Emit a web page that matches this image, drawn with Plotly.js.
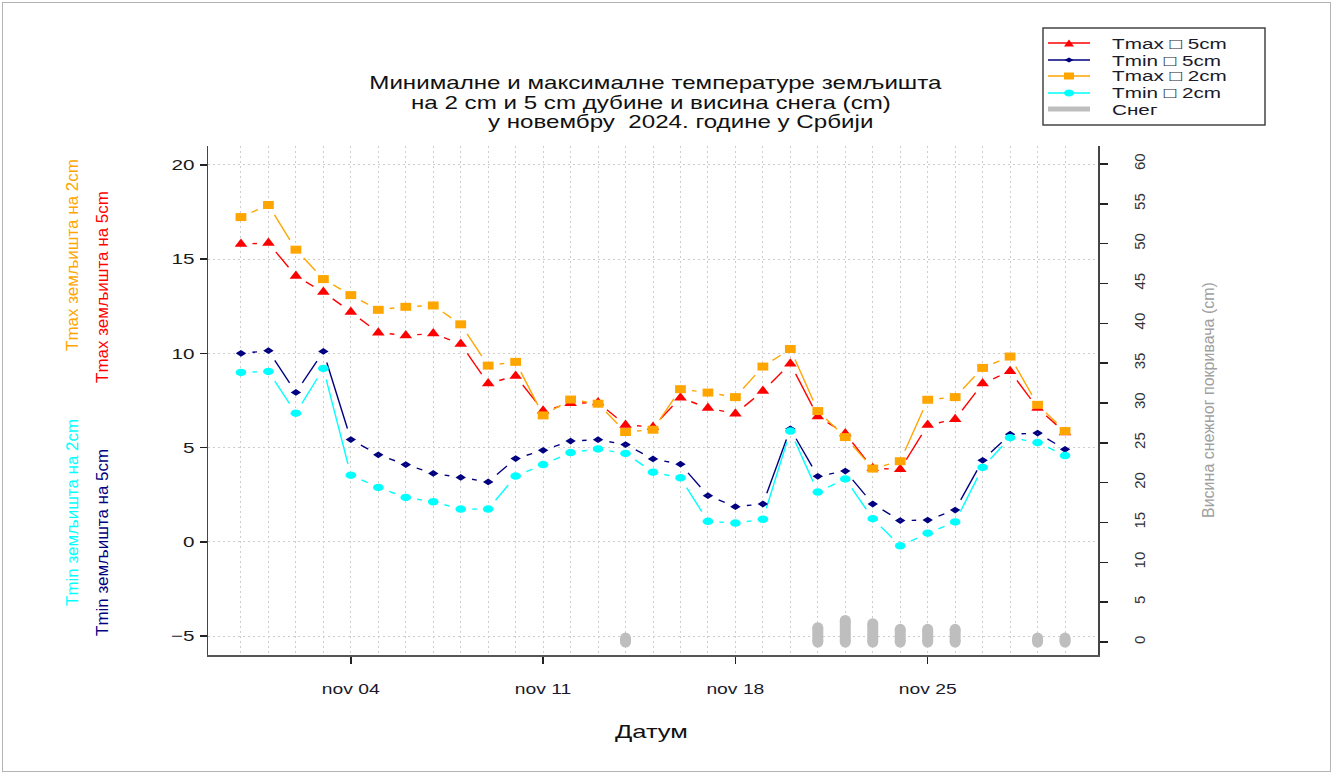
<!DOCTYPE html>
<html>
<head>
<meta charset="utf-8">
<script src="https://cdn.plot.ly/plotly-3.0.1.min.js"></script>
<style>
html, body { margin: 0; padding: 0; background: #ffffff; }
#chart { width: 1333px; height: 774px; }
#frame { position: absolute; left: 2px; top: 2px; width: 1327px; height: 768px; border: 1px solid #b4b4b4; pointer-events: none; }
</style>
</head>
<body>
<div id="chart"></div>
<div id="frame"></div>
<script>
// ---------------- data ----------------
const dates = [
  '2024-10-31','2024-11-01','2024-11-02','2024-11-03','2024-11-04','2024-11-05','2024-11-06','2024-11-07',
  '2024-11-08','2024-11-09','2024-11-10','2024-11-11','2024-11-12','2024-11-13','2024-11-14','2024-11-15',
  '2024-11-16','2024-11-17','2024-11-18','2024-11-19','2024-11-20','2024-11-21','2024-11-22','2024-11-23',
  '2024-11-24','2024-11-25','2024-11-26','2024-11-27','2024-11-28','2024-11-29','2024-11-30'
];
const tmax5 = [15.8, 15.85, 14.1, 13.25, 12.2, 11.1, 10.95, 11.05, 10.5, 8.4, 8.8, 6.95, 7.35, 7.4, 6.2, 6.1,
               7.65, 7.1, 6.8, 8.0, 9.45, 6.65, 5.75, 3.9, 3.85, 6.2, 6.5, 8.4, 9.05, 7.1, 5.8];
const tmin5 = [10.0, 10.14, 7.93, 10.1, 5.43, 4.62, 4.1, 3.63, 3.42, 3.18, 4.42, 4.86, 5.35, 5.42, 5.16, 4.4,
               4.12, 2.45, 1.87, 2.01, 6.0, 3.48, 3.76, 2.01, 1.13, 1.16, 1.69, 4.33, 5.71, 5.77, 4.91];
const tmax2 = [17.23, 17.87, 15.5, 13.94, 13.09, 12.31, 12.47, 12.54, 11.54, 9.35, 9.55, 6.71, 7.55, 7.33, 5.83, 5.95,
               8.1, 7.92, 7.68, 9.3, 10.23, 6.94, 5.56, 3.89, 4.28, 7.54, 7.68, 9.23, 9.83, 7.27, 5.88];
const tmin2 = [8.99, 9.04, 6.83, 9.2, 3.54, 2.89, 2.36, 2.13, 1.74, 1.74, 3.49, 4.1, 4.74, 4.93, 4.69, 3.7,
               3.4, 1.09, 1.0, 1.2, 5.88, 2.64, 3.34, 1.23, -0.21, 0.46, 1.06, 3.95, 5.53, 5.27, 4.58];
const snow  = [0, 0, 0, 0, 0, 0, 0, 0, 0, 0, 0, 0, 0, 0, 0.5, 0,
               0, 0, 0, 0, 0, 1.8, 2.7, 2.3, 1.6, 1.6, 1.6, 0, 0, 0.5, 0.5];
const tickDates  = ['2024-11-04', '2024-11-11', '2024-11-18', '2024-11-25'];
const tickLabels = ['nov 04', 'nov 11', 'nov 18', 'nov 25'];
const leftTicks  = [-5, 0, 5, 10, 15, 20];
const rightTicks = [0, 5, 10, 15, 20, 25, 30, 35, 40, 45, 50, 55, 60];
const legendLabels = ['Tmax \u25A1 5cm', 'Tmin \u25A1 5cm', 'Tmax \u25A1 2cm', 'Tmin \u25A1 2cm', 'Снег'];
const titleLines = ['Минималне и максималне температуре земљишта',
                    'на 2 cm и 5 cm дубине и висина снега (cm)',
                    'у новембру  2024. године у Србији'];

// ---------------- geometry ----------------
const FW = 1333, FH = 774;
const M = { l: 208, r: 235, t: 146, b: 119, pad: 0 };
const W = FW - M.l - M.r, H = FH - M.t - M.b;
const DAY = 86400000;
const tms = dates.map(d => Date.parse(d + 'T00:00:00Z'));
const X0 = tms[0] - 1.2 * DAY, X1 = tms[tms.length - 1] + 1.2 * DAY;
const Y0 = -6, Y1 = 21;
const Y20 = -1.63, Y21 = 62.26;
const STRETCH = 1.38;   // the reference text/markers are drawn wider than tall
function ms2str(ms) { return new Date(ms).toISOString().replace('T', ' ').replace('Z', ''); }
function PX(x) { return (x - M.l) / W; }
function PY(y) { return (FH - M.b - y) / H; }

// line segments with gaps round the points (like R type = "b")
function gapped(vals, gap) {
  const xs = [], ys = [];
  for (let i = 0; i < vals.length - 1; i++) {
    const ax = (tms[i] - X0) / (X1 - X0) * W, ay = (vals[i] - Y0) / (Y1 - Y0) * H;
    const bx = (tms[i + 1] - X0) / (X1 - X0) * W, by = (vals[i + 1] - Y0) / (Y1 - Y0) * H;
    const L = Math.hypot(bx - ax, by - ay);
    if (L <= 2 * gap) continue;
    const f = gap / L;
    const sx = ax + (bx - ax) * f, sy = ay + (by - ay) * f;
    const ex = bx - (bx - ax) * f, ey = by - (by - ay) * f;
    xs.push(ms2str(X0 + sx / W * (X1 - X0)), ms2str(X0 + ex / W * (X1 - X0)), null);
    ys.push(Y0 + sy / H * (Y1 - Y0), Y0 + ey / H * (Y1 - Y0), null);
  }
  return { xs, ys };
}

const series = [
  { name: legendLabels[0], vals: tmax5, color: '#FF0000', symbol: 'triangle-up', size: 11, lw: 0, sx: 1 },
  { name: legendLabels[1], vals: tmin5, color: '#000080', symbol: 'diamond-open', size: 2.8, lw: 2.2, sx: 1.55 },
  { name: legendLabels[2], vals: tmax2, color: '#FFA500', symbol: 'square', size: 8, lw: 0, sx: 1.35 },
  { name: legendLabels[3], vals: tmin2, color: '#00FFFF', symbol: 'circle', size: 7.5, lw: 0, sx: 1.42 }
];

const traces = [];
// temperature lines (gapped), then markers, on the left axis
series.forEach(s => {
  const g = gapped(s.vals, 11.5);
  traces.push({ x: g.xs, y: g.ys, type: 'scatter', mode: 'lines', line: { color: s.color, width: 1.4 },
                hoverinfo: 'skip', showlegend: false });
});
series.forEach(s => {
  traces.push({ x: dates, y: s.vals, type: 'scatter', mode: 'markers', name: s.name,
                marker: { color: s.color, size: s.size, symbol: s.symbol, line: { width: s.lw, color: s.color } },
                showlegend: false });
});
// snow bars (right axis)
const sxArr = [], syArr = [];
snow.forEach((v, i) => { if (v > 0) { sxArr.push(dates[i], dates[i], null); syArr.push(0, v, null); } });
traces.push({
  x: sxArr, y: syArr, yaxis: 'y2', type: 'scatter', mode: 'lines+markers', name: legendLabels[4],
  line: { color: '#BEBEBE', width: 11 }, marker: { color: '#BEBEBE', size: 11, symbol: 'circle' },
  hoverinfo: 'skip', showlegend: false
});

// ---------------- annotations / legend ----------------
const FONT = 'Liberation Sans, Arial, sans-serif';
const ann = [], annStretch = [];
function addAnn(a, mode) { ann.push(a); annStretch.push(mode); }
const titleCenters = [[655, 83], [651, 103], [680, 122]];
titleLines.forEach((t, i) => addAnn({ xref: 'paper', yref: 'paper', x: PX(titleCenters[i][0]), y: PY(titleCenters[i][1]),
  text: t, showarrow: false, xanchor: 'center', yanchor: 'middle', font: { family: FONT, size: 17.5, color: '#111' } }, 'center'));
addAnn({ xref: 'paper', yref: 'paper', x: PX(651), y: PY(731), text: 'Датум', showarrow: false,
  xanchor: 'center', yanchor: 'middle', font: { family: FONT, size: 18.5, color: '#111' } }, 'center');
addAnn({ xref: 'paper', yref: 'paper', x: PX(1208), y: PY(400), text: 'Висина снежног покривача (cm)', showarrow: false,
  textangle: -90, xanchor: 'center', yanchor: 'middle', font: { family: FONT, size: 16, color: '#A0A0A0' } }, null);
const sideLabels = [
  ['Tmax земљишта на 2cm', '#FFA500', 72, 255],
  ['Tmax земљишта на 5cm', '#FF0000', 102, 287],
  ['Tmin земљишта на 2cm', '#00FFFF', 72, 513],
  ['Tmin земљишта на 5cm', '#000080', 102, 543]
];
sideLabels.forEach(s => addAnn({ xref: 'paper', yref: 'paper', x: PX(s[2]), y: PY(s[3]), text: s[0], showarrow: false,
  textangle: -90, xanchor: 'center', yanchor: 'middle', font: { family: FONT, size: 17, color: s[1] } }, null));

const shapes = [];
// legend box
shapes.push({ type: 'rect', xref: 'paper', yref: 'paper', x0: PX(1043), x1: PX(1265), y0: PY(125), y1: PY(28),
  line: { color: '#444', width: 1.5 }, fillcolor: 'rgba(0,0,0,0)' });
const legY = [43, 60, 76, 93, 109];
const legColors = ['#FF0000', '#000080', '#FFA500', '#00FFFF', '#BEBEBE'];
legendLabels.forEach((lab, i) => {
  const y = legY[i];
  shapes.push({ type: 'line', xref: 'paper', yref: 'paper', x0: PX(1048), x1: PX(1090), y0: PY(y), y1: PY(y),
    line: { color: legColors[i], width: i === 4 ? 5 : 1.5 } });
  addAnn({ xref: 'paper', yref: 'paper', x: PX(1110), y: PY(y), text: lab, showarrow: false,
    xanchor: 'left', yanchor: 'middle', font: { family: FONT, size: 15, color: '#1a1a2a' } }, 'left');
});
const cx = 1069;
function pth(pts) { return 'M' + pts.map(p => PX(p[0]) + ',' + PY(p[1])).join('L') + 'Z'; }
shapes.push({ type: 'path', xref: 'paper', yref: 'paper', path: pth([[cx - 5, 46.5], [cx + 5, 46.5], [cx, 39.5]]),
  fillcolor: '#FF0000', line: { width: 0 } });
shapes.push({ type: 'path', xref: 'paper', yref: 'paper', path: pth([[cx - 4.5, 60], [cx, 57.5], [cx + 4.5, 60], [cx, 62.5]]),
  fillcolor: '#000080', line: { width: 0 } });
shapes.push({ type: 'rect', xref: 'paper', yref: 'paper', x0: PX(cx - 5), x1: PX(cx + 5), y0: PY(79.5), y1: PY(72.5),
  fillcolor: '#FFA500', line: { width: 0 } });
shapes.push({ type: 'circle', xref: 'paper', yref: 'paper', x0: PX(cx - 5), x1: PX(cx + 5), y0: PY(96.5), y1: PY(89.5),
  fillcolor: '#00FFFF', line: { width: 0 } });

const gridStyle = { gridcolor: '#CDCDCD', gridwidth: 1, griddash: '2px,3px' };
const layout = {
  width: FW, height: FH, margin: M, showlegend: false,
  paper_bgcolor: '#ffffff', plot_bgcolor: '#ffffff',
  font: { family: FONT, size: 15, color: '#1a1a1a' },
  xaxis: Object.assign({
    type: 'date', range: [ms2str(X0), ms2str(X1)], tickmode: 'array', tickvals: tickDates, ticktext: tickLabels,
    ticks: 'outside', ticklen: 7, tickwidth: 1.5, tickcolor: '#222', showline: true, linecolor: '#555', linewidth: 1.5,
    showgrid: true, zeroline: false, ticklabelstandoff: 14, tickfont: { family: FONT, size: 14, color: '#1a1a2a' },
    minor: Object.assign({ tickmode: 'array', tickvals: dates, showgrid: true, ticks: '' }, gridStyle)
  }, gridStyle),
  yaxis: Object.assign({
    range: [Y0, Y1], tickmode: 'array', tickvals: leftTicks, ticks: 'outside', ticklen: 7, tickwidth: 1.5, tickcolor: '#222',
    showline: true, linecolor: '#444', linewidth: 1.5, showgrid: true, zeroline: false,
    tickfont: { family: FONT, size: 15, color: '#1a1a1a' }, ticklabelstandoff: 2
  }, gridStyle),
  yaxis2: {
    overlaying: 'y', side: 'right', range: [Y20, Y21], tickmode: 'array', tickvals: rightTicks, tickangle: -90,
    ticks: 'outside', ticklen: 8, tickwidth: 1.5, tickcolor: '#222', showline: true, linecolor: '#444', linewidth: 1.5,
    showgrid: false, zeroline: false, tickfont: { family: FONT, size: 15, color: '#333' }, ticklabelstandoff: 19
  },
  annotations: ann, shapes: shapes
};

function stretchText(el, mode, s) {
  const bb = el.getBBox();
  let ax;
  if (mode === 'left') ax = bb.x;
  else if (mode === 'right') ax = bb.x + bb.width;
  else ax = bb.x + bb.width / 2;
  const old = el.getAttribute('transform') || '';
  el.setAttribute('transform', old + ' translate(' + ax + ',0) scale(' + s + ',1) translate(' + (-ax) + ',0)');
}

Plotly.newPlot('chart', traces, layout, { displayModeBar: false, staticPlot: true }).then(gd => {
  gd.querySelectorAll('.xtick text').forEach(el => stretchText(el, 'center', STRETCH));
  gd.querySelectorAll('.ytick text').forEach(el => stretchText(el, 'right', STRETCH));
  const annEls = gd.querySelectorAll('.annotation');
  annEls.forEach((g, i) => {
    const mode = annStretch[i];
    if (!mode) return;
    const t = g.querySelector('text');
    if (t) stretchText(t, mode, STRETCH);
  });
  // widen the marker glyphs (the reference markers are wider than tall)
  const xyTraces = gd.querySelectorAll('.subplot.xy .scatterlayer .trace');
  series.forEach((s, k) => {
    if (s.sx === 1) return;
    const tr = xyTraces[series.length + k];
    if (!tr) return;
    tr.querySelectorAll('.points path').forEach(p => {
      p.setAttribute('transform', (p.getAttribute('transform') || '') + ' scale(' + s.sx + ',1)');
    });
  });
});
</script>
</body>
</html>
